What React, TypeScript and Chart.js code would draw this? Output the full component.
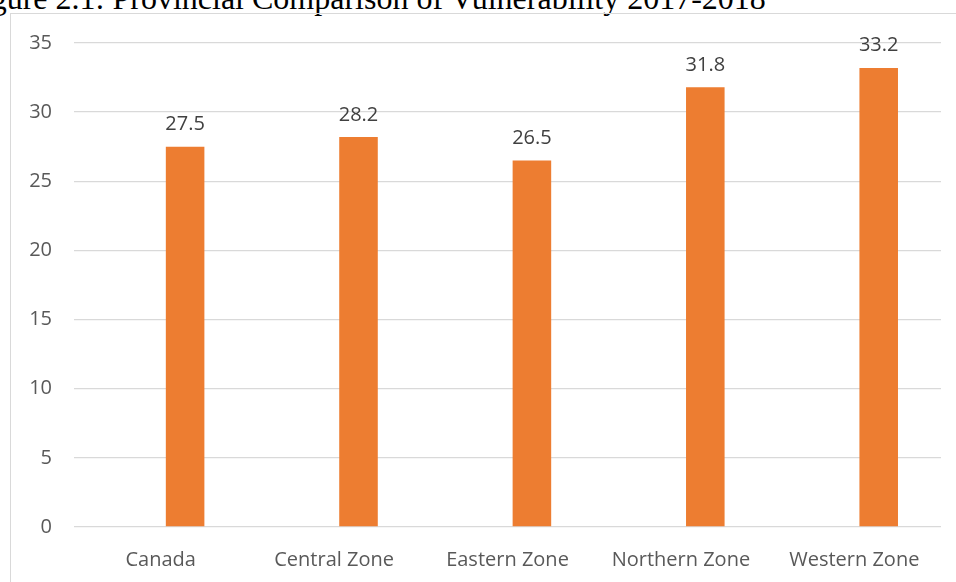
import React, { useEffect, useRef } from "react";
import { Chart, registerables } from "chart.js";

Chart.register(...registerables);

const categories = ["Canada", "Central Zone", "Eastern Zone", "Northern Zone", "Western Zone"];
const emptySeries: (number | null)[] = [null, null, null, null, null];
const vulnerability = [27.5, 28.2, 26.5, 31.8, 33.2];
const yMin = 0;
const yMax = 35;
const yStep = 5;

const TITLE = "Figure 2.1: Provincial Comparison of Vulnerability 2017-2018";
const FONT = "'Open Sans', 'Noto Sans', sans-serif";

// Writes each bar's value just above its top.
const valueLabels = {
  id: "valueLabels",
  afterDatasetsDraw(chart: any) {
    const { ctx } = chart;
    chart.data.datasets.forEach((ds: any, i: number) => {
      const meta = chart.getDatasetMeta(i);
      meta.data.forEach((bar: any, j: number) => {
        const v = ds.data[j];
        if (v == null) return;
        ctx.save();
        ctx.font = `20px ${FONT}`;
        ctx.fillStyle = "#404040";
        ctx.textAlign = "center";
        ctx.textBaseline = "alphabetic";
        ctx.fillText(v.toFixed(1), bar.x, bar.y - 16.5);
        ctx.restore();
      });
    });
  },
};

export default function App() {
  const canvasRef = useRef<HTMLCanvasElement | null>(null);

  useEffect(() => {
    if (!canvasRef.current) return;
    const chart = new Chart(canvasRef.current, {
      type: "bar",
      data: {
        labels: categories,
        datasets: [
          {
            label: "Series 1",
            data: emptySeries,
            backgroundColor: "#4472C4",
          },
          {
            label: "Vulnerability",
            data: vulnerability,
            backgroundColor: "#ED7D31",
            borderWidth: 0,
          },
        ],
      },
      options: {
        responsive: false,
        animation: false,
        maintainAspectRatio: false,
        categoryPercentage: 0.563,
        barPercentage: 0.79,
        layout: { padding: { top: 30, right: 15, left: 0, bottom: 0 } },
        plugins: {
          legend: { display: false },
          tooltip: { enabled: false },
          title: { display: false },
        },
        scales: {
          x: {
            grid: { display: false, drawTicks: false },
            border: { display: false },
            ticks: {
              color: "#595959",
              font: { family: FONT, size: 20 },
              padding: 21,
              maxRotation: 0,
              autoSkip: false,
            },
            afterFit: (s: any) => {
              s.height = 55;
              s.paddingLeft = 0;
              s.paddingRight = 0;
            },
          },
          y: {
            min: yMin,
            max: yMax,
            grid: { color: "#d9d9d9", lineWidth: 1.3, drawTicks: false },
            border: { display: false },
            ticks: {
              stepSize: yStep,
              color: "#595959",
              font: { family: FONT, size: 20 },
              padding: 22,
            },
            afterFit: (s: any) => {
              s.width = 64;
              s.paddingTop = 0;
              s.paddingBottom = 0;
            },
          },
        },
      },
      plugins: [valueLabels],
    });
    return () => chart.destroy();
  }, []);

  return (
    <div
      style={{
        position: "fixed",
        left: 0,
        top: 0,
        width: 956,
        height: 582,
        overflow: "hidden",
        background: "#ffffff",
      }}
    >
      <div
        style={{
          position: "absolute",
          left: -36,
          top: -18.5,
          fontFamily: "'Liberation Serif', 'Times New Roman', serif",
          fontSize: 32,
          lineHeight: 1,
          whiteSpace: "nowrap",
          color: "#000000",
        }}
      >
        {TITLE}
      </div>
      <div
        style={{
          position: "absolute",
          left: 10,
          top: 13,
          width: 960,
          height: 600,
          border: "1.3px solid #d9d9d9",
          boxSizing: "border-box",
        }}
      />
      <canvas
        ref={canvasRef}
        width={946}
        height={569}
        style={{ position: "absolute", left: 10, top: 13, width: 946, height: 569 }}
      />
    </div>
  );
}
